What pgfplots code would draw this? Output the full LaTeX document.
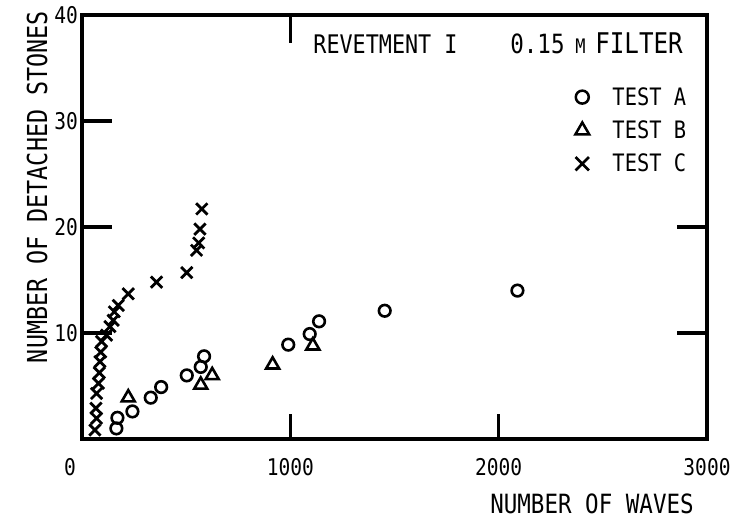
\documentclass[border=0pt]{standalone}
\usepackage{pgfplots}
\pgfplotsset{compat=1.18}
\usepackage{fontspec}
\setmainfont{DejaVu Sans Mono}[FakeStretch=0.85]

\pgfplotstableread{
x y
165 1.0
170 2.0
242 2.6
330 3.9
380 4.9
503 6.0
570 6.8
586 7.8
990 8.9
1093 9.9
1138 11.1
1453 12.1
2090 14.0
}\testA

\pgfplotstableread{
x y
222 3.9
570 5.1
625 6.0
915 7.0
1108 8.8
}\testB

\pgfplotstableread{
x y
62 0.85
70 1.95
67 2.9
70 4.3
79 5.25
83 6.25
86 7.3
90 8.2
94 9.2
118 9.8
134 10.6
150 11.2
155 12.0
174 12.6
222 13.7
358 14.8
503 15.7
550 17.8
560 18.5
566 19.8
575 21.7
}\testC

\begin{document}
\begin{tikzpicture}
\begin{axis}[name=ax, scale only axis, width=625pt, height=424pt,
  xmin=0, xmax=3000, ymin=0, ymax=40, clip=false,
  xtick={0,1000,2000,3000},
  xticklabels={\makebox[0pt][r]{0\hspace{6pt}},1000,2000,3000},
  ytick={10,20,30,40},
  major tick length=0pt,
  /pgf/number format/assume math mode=true,
  tick label style={font=\fontsize{23}{23}\selectfont, inner sep=0pt},
  xticklabel style={yshift=-19pt},
  yticklabel style={xshift=-4pt},
  axis line style={line width=3.2pt, line join=miter},
  xlabel={NUMBER OF WAVES},
  xlabel style={at={(rel axis cs:0.816,-0.153)}, anchor=center, font=\fontsize{26.5}{26.5}\selectfont},
  ylabel={NUMBER OF DETACHED STONES},
  ylabel style={at={(rel axis cs:-0.072,0.594)}, anchor=center, font=\fontsize{27.5}{27.5}\selectfont},
  legend style={draw=none, fill=none, at={(rel axis cs:0.975,0.839)}, anchor=north east,
    font=\fontsize{24}{24}\selectfont, row sep=10pt, cells={anchor=west}},
]
\addplot[only marks, mark=o, mark size=5.8pt, mark options={line width=2.6pt},
  legend image code/.code={\draw[only marks, mark=o, mark size=6.5pt, mark options={line width=2.5pt}] plot coordinates {(0pt,0pt)}; \path (0pt,-8pt) (28pt,8pt);}]
  table[x=x,y=y] {\testA};
\addlegendentry{TEST A}
\addplot[only marks, mark=triangle, mark size=7.5pt, mark options={line width=2.6pt},
  legend image code/.code={\draw[only marks, mark=triangle, mark size=8pt, mark options={line width=2.5pt}] plot coordinates {(0pt,0pt)}; \path (0pt,-8pt) (28pt,8pt);}]
  table[x=x,y=y] {\testB};
\addlegendentry{TEST B}
\addplot[only marks, mark=x, mark size=8pt, mark options={line width=2.8pt},
  legend image code/.code={\draw[only marks, mark=x, mark size=9.5pt, mark options={line width=2.6pt}] plot coordinates {(0pt,0pt)}; \path (0pt,-8pt) (28pt,8pt);}]
  table[x=x,y=y] {\testC};
\addlegendentry{TEST C}

% ticks drawn inside the frame
\draw[line width=3.2pt] (axis cs:0,10) -- (axis cs:144,10);
\draw[line width=3.2pt] (axis cs:0,20) -- (axis cs:144,20);
\draw[line width=3.2pt] (axis cs:0,30) -- (axis cs:144,30);
\draw[line width=3.2pt] (axis cs:3000,10) -- (axis cs:2856,10);
\draw[line width=3.2pt] (axis cs:3000,20) -- (axis cs:2856,20);
\draw[line width=3.2pt] (axis cs:1000,40) -- (axis cs:1000,37.4);
\draw[line width=3.2pt] (axis cs:1000,0) -- (axis cs:1000,2.4);
\draw[line width=3.2pt] (axis cs:2000,0) -- (axis cs:2000,2.4);

\node[anchor=base west, inner sep=0pt, font=\fontsize{25.6}{25.6}\selectfont] at (rel axis cs:0.370,0.910) {REVETMENT I};
\node[anchor=base west, inner sep=0pt, font=\fontsize{26.5}{26.5}\selectfont] at (rel axis cs:0.685,0.910) {0.15};
\node[anchor=base west, inner sep=0pt, font=\fontsize{20}{20}\selectfont] at (rel axis cs:0.789,0.910) {M};
\node[anchor=base west, inner sep=0pt, font=\fontsize{28.5}{28.5}\selectfont] at (rel axis cs:0.821,0.910) {FILTER};
\end{axis}
\pgfresetboundingbox
\path[use as bounding box] ([shift={(-82pt,-80pt)}]ax.south west) rectangle ([shift={(32pt,15pt)}]ax.north east);
\end{tikzpicture}
\end{document}
